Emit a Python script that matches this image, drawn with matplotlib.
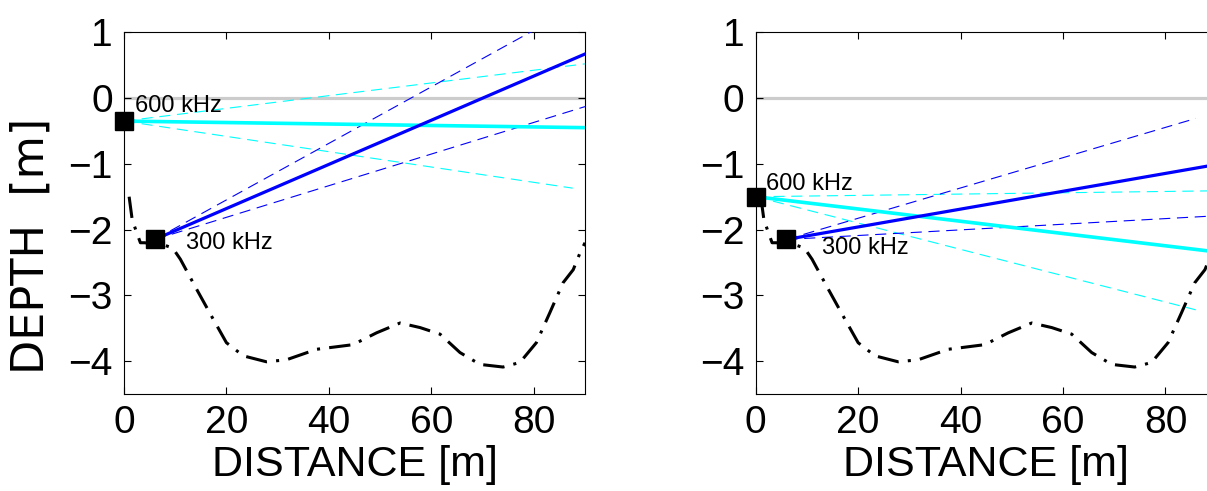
import matplotlib
matplotlib.use('Agg')
import matplotlib.pyplot as plt

plt.rcParams['font.family'] = ['Liberation Sans', 'DejaVu Sans']

# bottom profile (shared by both panels)
dist = [1.0, 1.6, 2.5, 3.2, 4.0, 6.0, 8.0, 9.5, 11.0, 14.2, 17.4, 20.0, 23.3, 27.8, 31.7,
        37.6, 44.7, 49.3, 53.9, 57.8, 61.7, 65.6, 69.5, 74.0, 77.3, 80.5, 83.1, 85.7,
        87.7, 89.0, 90.0]
depth = [-1.5, -1.85, -2.05, -2.2, -2.2, -2.22, -2.24, -2.28, -2.45, -2.91, -3.36, -3.72,
         -3.92, -4.01, -3.98, -3.82, -3.75, -3.57, -3.42, -3.49, -3.59, -3.87, -4.05,
         -4.09, -4.02, -3.72, -3.27, -2.81, -2.61, -2.36, -2.2]

# transducer positions [left panel, right panel]
x600 = [0, 0]
z600 = [-0.35, -1.5]
x300 = [6, 6]
z300 = [-2.15, -2.15]

# beam end points: (x_end, z_end) for centre, upper, lower
beam600 = [
    [(90, -0.45), (90, 0.52), (87.6, -1.37)],
    [(90, -2.34), (90, -1.41), (85.9, -3.22)],
]
beam300 = [
    [(90, 0.67), (90, 1.46), (90, -0.13)],
    [(90, -1.01), (85.9, -0.31), (90, -1.79)],
]

# text label positions
lab600 = [(2.1, -0.12), (1.95, -1.30)]
lab300 = [(12.1, -2.2), (12.9, -2.28)]

fig = plt.figure(figsize=(12.07, 4.91), dpi=100)
lefts = [124 / 1207, 755.7 / 1207]
w = 461 / 1207
b = 97 / 491
h = 361.7 / 491

for i in range(2):
    ax = fig.add_axes([lefts[i], b, w, h])
    ax.axhline(0, color='#cccccc', lw=2.3, zorder=1)
    ax.plot(dist, depth, color='black', lw=2.2, linestyle=(0, (7, 3, 1, 3)), zorder=2)
    for k, bm in enumerate([beam600[i], beam300[i]]):
        x0 = [x600, x300][k][i]
        z0 = [z600, z300][k][i]
        col = ['cyan', 'blue'][k]
        for j in (1, 2):
            ax.plot([x0, bm[j][0]], [z0, bm[j][1]], color=col, lw=0.8,
                    linestyle=(0, (10, 6)), zorder=3)
        ax.plot([x0, bm[0][0]], [z0, bm[0][1]], color=col, lw=2.6 if k == 0 else 2.3, zorder=4)
    ax.plot([x600[i], x300[i]], [z600[i], z300[i]], 's', color='black', ms=12.5, zorder=6,
            clip_on=False)
    ax.text(lab600[i][0], lab600[i][1], '600 kHz', fontsize=17, va='center', ha='left', zorder=7)
    ax.text(lab300[i][0], lab300[i][1], '300 kHz', fontsize=17, va='center', ha='left', zorder=7)

    ax.set_xlim(0, 90)
    ax.set_ylim(-4.5, 1)
    ax.set_xticks([0, 20, 40, 60, 80])
    ax.set_yticks([-4, -3, -2, -1, 0, 1])
    ax.tick_params(direction='in', length=5, width=0.8, top=True, right=True,
                   labelsize=28, pad=8)
    for s in ax.spines.values():
        s.set_linewidth(0.8)
    ax.set_xlabel('DISTANCE [m]', fontsize=31, labelpad=3)
    if i == 0:
        ax.set_ylabel('DEPTH  [m]', fontsize=32, family='DejaVu Sans')
        ax.yaxis.set_label_coords(-0.155, 0.41)

fig.savefig('out.png', dpi=100)
